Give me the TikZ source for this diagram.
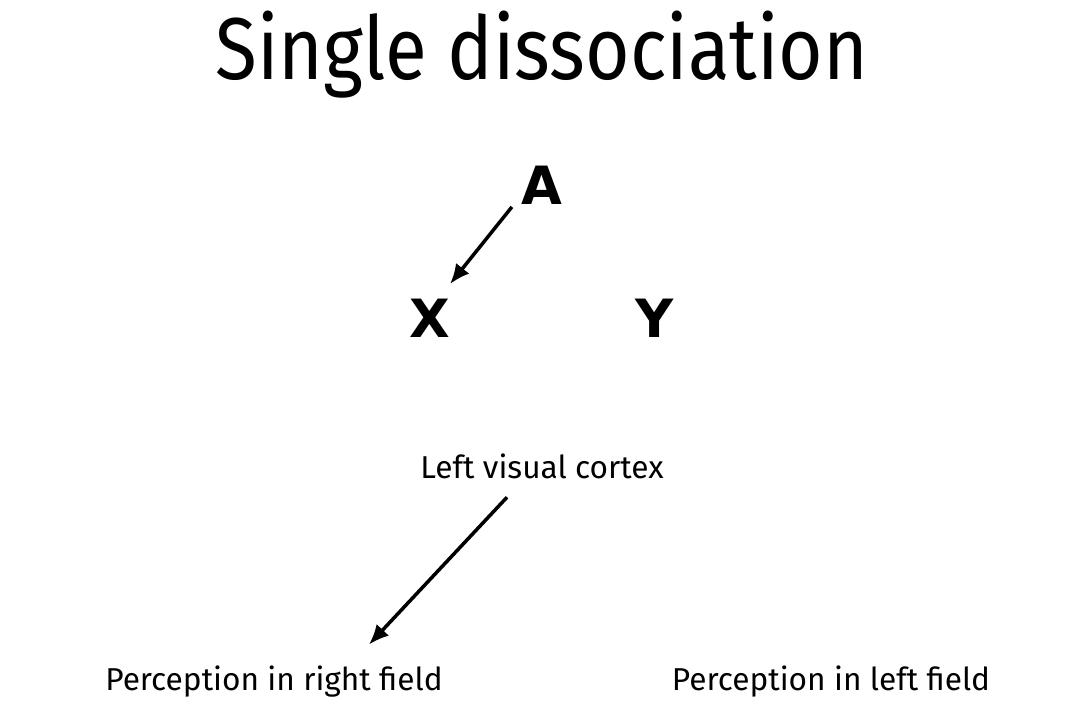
\documentclass[tikz,border=0pt]{standalone}
\usepackage{fontspec}
\setmainfont{Fira Sans}
\newfontfamily\letterfont{DejaVu Sans}
\usetikzlibrary{arrows.meta,positioning}

\begin{document}
\begin{tikzpicture}[
  x=1cm,y=1cm,
  heading/.style={font=\fontsize{25}{30}\selectfont,inner sep=0pt,xscale=0.87,transform shape},
  letter/.style={font=\letterfont\bfseries\fontsize{15}{18}\selectfont,inner sep=0pt},
  lbl/.style={font=\fontsize{9}{11}\selectfont,inner sep=0pt},
  ptr/.style={-{Latex[length=2mm,width=1.7mm]},line width=1pt},
]
\useasboundingbox (0,0) rectangle (10.72,7.23);
\node[heading] (title) at (5.42,6.68) {Single dissociation};
\node[letter] (A) at (5.42,5.38) {A};
\node[letter] (X) at (4.30,4.05) {X};
\node[letter] (Y) at (6.55,4.05) {Y};
\node[lbl] (cortex) at (5.42,2.57) {Left visual cortex};
\node[lbl] (right) at (2.74,0.41) {Perception in right field};
\node[lbl] (left) at (8.31,0.41) {Perception in left field};
% arrows
\draw[ptr] ([xshift=-0.09cm,yshift=-0.02cm]A.south west) -- ([xshift=-0.01cm,yshift=0.14cm]X.north east);
\draw[ptr] ([xshift=-0.35cm,yshift=-0.18cm]cortex.south) -- ([xshift=0.95cm,yshift=0.21cm]right.north);
\end{tikzpicture}
\end{document}
